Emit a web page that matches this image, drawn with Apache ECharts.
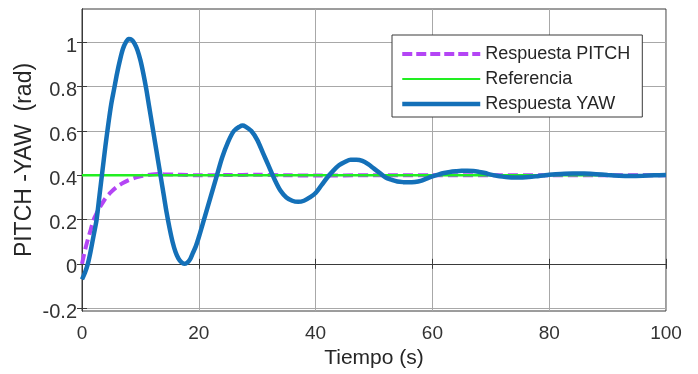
<!DOCTYPE html>
<html>
<head>
<meta charset="utf-8">
<script src="https://cdn.jsdelivr.net/npm/echarts@6/dist/echarts.min.js"></script>
<style>
html,body{margin:0;padding:0;background:#fff;}
#chart{width:698px;height:374px;}
</style>
</head>
<body>
<div id="chart"></div>
<script>
// ---- data ----
const yawTime = [0,0.5,1,1.5,2,2.5,3,3.5,4,4.5,5,5.5,6,6.5,7,7.5,8,8.5,9,9.5,10,10.5,11,11.5,12,12.5,13,13.5,14,14.5,15,15.5,16,16.5,17,17.5,18,18.5,19,19.5,20,21,22,23,24,25,26,27,27.5,28,29,30,31,32,33,34,35,36,37,38,39,40,41,42,43,44,45,46,47,48,49,50,51,52,53,54,55,56,57,58,59,60,61,62,63,64,65,66,67,68,69,70,71,72,73,74,75,76,77,78,79,80,82,84,86,88,90,92,94,96,98,100];
const yawValues = [-0.07,-0.04,0.0,0.06,0.13,0.20,0.31,0.42,0.53,0.63,0.72,0.79,0.86,0.92,0.97,1.0,1.015,1.012,0.995,0.965,0.92,0.86,0.79,0.71,0.63,0.55,0.47,0.39,0.31,0.23,0.16,0.10,0.055,0.025,0.008,0.0,0.005,0.02,0.05,0.08,0.12,0.21,0.30,0.39,0.48,0.55,0.60,0.62,0.625,0.62,0.60,0.56,0.50,0.44,0.38,0.33,0.30,0.285,0.28,0.285,0.30,0.32,0.355,0.39,0.42,0.445,0.46,0.47,0.47,0.465,0.45,0.43,0.41,0.39,0.38,0.372,0.369,0.368,0.37,0.375,0.385,0.395,0.403,0.41,0.415,0.418,0.42,0.42,0.419,0.415,0.41,0.403,0.398,0.394,0.391,0.39,0.39,0.391,0.393,0.396,0.399,0.402,0.406,0.408,0.408,0.405,0.401,0.398,0.397,0.398,0.4,0.401];
const pitchTime = [0,0.5,1,1.5,2,2.5,3,4,5,6,7,8,9,10,11,12,13,14,16,18,20,25,30,35,40,50,60,70,80,90,100];
const pitchValues = [0.0,0.06,0.11,0.155,0.2,0.228,0.252,0.295,0.325,0.348,0.365,0.378,0.388,0.395,0.4,0.404,0.406,0.405,0.403,0.401,0.4,0.401,0.402,0.4,0.399,0.4,0.4,0.4,0.4,0.4,0.4];
const refTime = [0,100];
const refValues = [0.4,0.4];
const xTicks = [0,20,40,60,80,100];
const yTicks = [-0.2,0,0.2,0.4,0.6,0.8,1];
const seriesNames = ['Respuesta PITCH','Referencia','Respuesta YAW'];

const zip = (a,b) => a.map((t,i)=>[t,b[i]]);
const FONT = "'Liberation Sans', Arial, Helvetica, sans-serif";
const TXT = '#333333';
const AX = '#3a3a3a';
const C_PITCH = '#b445f5', C_REF = '#22ee22', C_YAW = '#1470b8';

const chart = echarts.init(document.getElementById('chart'), null, {renderer:'canvas'});
chart.setOption({
  animation:false,
  backgroundColor:'#ffffff',
  textStyle:{fontFamily:FONT},
  grid:{left:82,right:32,top:9,bottom:60.5,show:true,borderColor:AX,borderWidth:1,backgroundColor:'#fff'},
  legend:{
    orient:'vertical',left:392,top:35,
    padding:[10,12,4,8],
    itemWidth:78,itemHeight:14,itemGap:7,
    backgroundColor:'#ffffff',borderColor:'#3a3a3a',borderWidth:1,
    selectedMode:false,
    itemStyle:{opacity:0,borderWidth:0},
    textStyle:{fontFamily:FONT,fontSize:18,color:'#262626'},
    data:[
      {name:seriesNames[0],lineStyle:{color:C_PITCH,width:4,type:[10,4]}},
      {name:seriesNames[1],lineStyle:{color:C_REF,width:2}},
      {name:seriesNames[2],lineStyle:{color:C_YAW,width:4.5}}
    ]
  },
  xAxis:[{
    type:'value',min:0,max:100,interval:20,
    name:'Tiempo (s)',nameLocation:'middle',nameGap:37,nameMoveOverlap:false,
    nameTextStyle:{fontFamily:FONT,fontSize:21,color:'#262626'},
    axisLine:{show:true,lineStyle:{color:AX}},
    axisTick:{show:true,inside:true,length:5,lineStyle:{color:AX}},
    axisLabel:{fontFamily:FONT,fontSize:19,color:TXT,margin:13},
    splitLine:{show:true,lineStyle:{color:'#a8a8a8',width:1}}
  },{
    type:'value',position:'top',min:0,max:100,interval:20,
    axisLine:{show:true,lineStyle:{color:AX}},
    axisTick:{show:true,inside:true,length:5,lineStyle:{color:AX}},
    axisLabel:{show:false},splitLine:{show:false}
  }],
  yAxis:[{
    type:'value',min:-0.213,max:1.151,
    name:'PITCH -YAW  (rad)',nameLocation:'middle',nameGap:46,nameMoveOverlap:false,
    nameTextStyle:{fontFamily:FONT,fontSize:23,color:'#262626'},
    axisLine:{show:true,lineStyle:{color:AX}},
    axisTick:{show:true,inside:true,length:5,lineStyle:{color:AX},customValues:yTicks},
    axisLabel:{fontFamily:FONT,fontSize:20,color:TXT,margin:5,customValues:yTicks,
      formatter:v=>'{a|'+String(Math.round(v*10)/10)+'}',
      rich:{a:{fontFamily:FONT,fontSize:20,color:TXT,padding:[8,0,0,0]}}},
    splitLine:{show:true,lineStyle:{color:'#a8a8a8',width:1}}
  },{
    type:'value',position:'right',min:-0.213,max:1.151,
    axisLine:{show:true,lineStyle:{color:AX}},
    axisTick:{show:true,inside:true,length:5,lineStyle:{color:AX},customValues:yTicks},
    axisLabel:{show:false,customValues:yTicks},splitLine:{show:false}
  }],
  series:[
    {name:seriesNames[0],type:'line',data:zip(pitchTime,pitchValues),symbol:'none',smooth:0.3,
      lineStyle:{color:C_PITCH,width:4,type:[10,5]},itemStyle:{color:C_PITCH}},
    {name:seriesNames[1],type:'line',data:zip(refTime,refValues),symbol:'none',
      lineStyle:{color:C_REF,width:2.5},itemStyle:{color:C_REF}},
    {name:seriesNames[2],type:'line',data:zip(yawTime,yawValues),symbol:'none',smooth:0.3,
      lineStyle:{color:C_YAW,width:4.5},itemStyle:{color:C_YAW}}
  ]
});
</script>
</body>
</html>
